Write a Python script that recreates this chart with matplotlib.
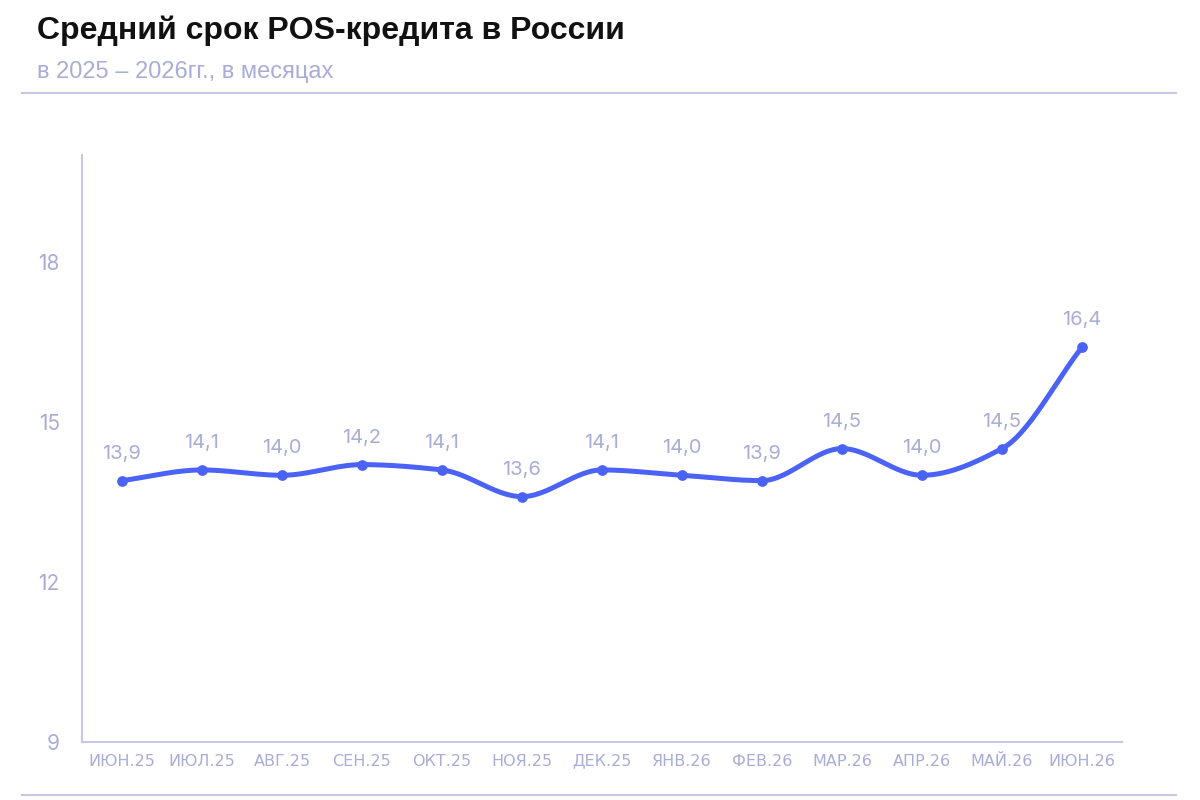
import numpy as np
import matplotlib
matplotlib.use("Agg")
import matplotlib.pyplot as plt
from matplotlib.lines import Line2D

months = ["ИЮН.25", "ИЮЛ.25", "АВГ.25", "СЕН.25", "ОКТ.25", "НОЯ.25", "ДЕК.25",
          "ЯНВ.26", "ФЕВ.26", "МАР.26", "АПР.26", "МАЙ.26", "ИЮН.26"]
term = [13.9, 14.1, 14.0, 14.2, 14.1, 13.6, 14.1, 14.0, 13.9, 14.5, 14.0, 14.5, 16.4]
yticks = [9, 12, 15, 18]

LINE = "#4a62f6"
SOFT = "#a9acd6"
RULE = "#c6c8e6"


def monotone_curve(x, y, n=30):
    # monotone cubic (Fritsch-Carlson), like d3 curveMonotoneX
    x = np.asarray(x, float)
    y = np.asarray(y, float)
    h = np.diff(x)
    d = np.diff(y) / h
    m = np.zeros_like(y)
    m[0], m[-1] = d[0], d[-1]
    for i in range(1, len(y) - 1):
        if d[i - 1] * d[i] <= 0:
            m[i] = 0
        else:
            m[i] = (h[i - 1] + h[i]) * 3 / ((2 * h[i] + h[i - 1]) / d[i - 1] + (h[i] + 2 * h[i - 1]) / d[i])
    xs, ys = [], []
    for i in range(len(h)):
        t = np.linspace(0, 1, n, endpoint=False)
        h00 = 2 * t**3 - 3 * t**2 + 1
        h10 = t**3 - 2 * t**2 + t
        h01 = -2 * t**3 + 3 * t**2
        h11 = t**3 - t**2
        xs.append(x[i] + t * h[i])
        ys.append(h00 * y[i] + h10 * h[i] * m[i] + h01 * y[i + 1] + h11 * h[i] * m[i + 1])
    xs.append([x[-1]])
    ys.append([y[-1]])
    return np.concatenate(xs), np.concatenate(ys)


plt.rcParams["font.family"] = ["Inter", "DejaVu Sans"]

fig = plt.figure(figsize=(12, 8), dpi=100)
ax = fig.add_axes([0.0683, 0.0725, 0.8667, 0.7335])

x = np.arange(len(months))
cx, cy = monotone_curve(x, term)
ax.plot(cx, cy, color=LINE, lw=3.6, solid_capstyle="round", zorder=3)
ax.scatter(x, term, s=45, color=LINE, zorder=4)

for xi, v in zip(x, term):
    ax.annotate(f"{v:.1f}".replace(".", ","), (xi, v), xytext=(0, 13),
                textcoords="offset points", ha="center", va="bottom",
                fontsize=14.5, color=SOFT)

ax.set_xlim(-0.5, len(months) - 0.5)
ax.set_ylim(9, 20)
ax.set_yticks(yticks)
ax.set_yticklabels([str(t) for t in yticks])
ax.set_xticks(x)
ax.set_xticklabels(months, family="DejaVu Sans")
ax.tick_params(axis="y", length=0, pad=16, labelsize=15, labelcolor=SOFT)
ax.tick_params(axis="x", length=0, pad=17, labelsize=11.5, labelcolor=SOFT)
for lbl in ax.get_xticklabels():
    lbl.set_va("baseline")

for side in ["top", "right"]:
    ax.spines[side].set_visible(False)
for side in ["left", "bottom"]:
    ax.spines[side].set_color(RULE)
    ax.spines[side].set_linewidth(1.5)

fig.text(0.031, 0.961, "Средний срок POS-кредита в России", fontsize=23,
         fontweight="bold", color="#111111", va="center",
         family=["Liberation Sans", "DejaVu Sans"])
fig.text(0.031, 0.91, "в 2025 – 2026гг., в месяцах", fontsize=17,
         color=SOFT, va="center", family=["Liberation Sans", "DejaVu Sans"])
fig.add_artist(Line2D([0.018, 0.98], [0.884, 0.884], color=RULE, lw=1.5))
fig.add_artist(Line2D([0.018, 0.98], [0.006, 0.006], color=RULE, lw=1.5))

fig.savefig("out.png", dpi=100)
